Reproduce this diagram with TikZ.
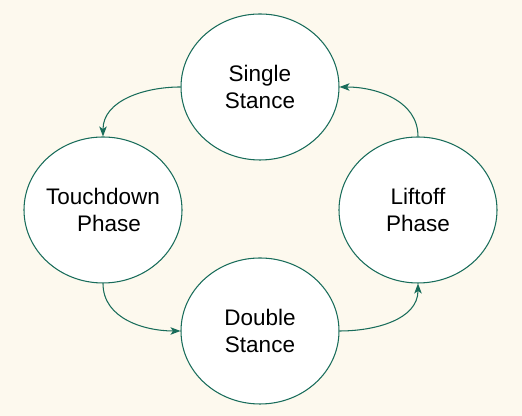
\documentclass[tikz,border=0pt]{standalone}
\usepackage{fontspec}
\setmainfont{Liberation Sans}
\usepackage{tikz}
\usetikzlibrary{shapes.geometric}
\usetikzlibrary{arrows.meta}
\definecolor{cream}{RGB}{253,249,238}
\definecolor{pine}{RGB}{24,108,90}

\begin{document}
\begin{tikzpicture}[
    phase/.style={shape=ellipse, draw=pine, fill=white, line width=0.6pt,
      minimum width=3.16cm, minimum height=2.92cm, inner xsep=-0.2cm, inner ysep=0pt,
      align=center, font=\fontsize{12.8}{14.9}\selectfont},
    trans/.style={draw=pine, line width=0.6pt, -{Stealth[length=0.2cm, width=0.15cm, inset=0.05cm]}}
  ]
      \fill[cream] (0,0) rectangle (10.44,8.32);
      \useasboundingbox (0,0) rectangle (10.44,8.32);

      \node[phase] (single) at (5.20,6.58) {Single\\Stance};
      \node[phase] (touch) at (2.06,4.12) {Touchdown\\\hspace{0.24cm}Phase};
      \node[phase] (double) at (5.20,1.70) {Double\\Stance};
      \node[phase] (lift) at (8.36,4.12) {Liftoff\\Phase};

      \draw[trans] (single.west) to[out=180, in=90] (touch.north);
      \draw[trans] (touch.south) to[out=270, in=180] (double.west);
      \draw[trans] (double.east) to[out=0, in=270] (lift.south);
      \draw[trans] (lift.north) to[out=90, in=0] (single.east);
    \end{tikzpicture}
\end{document}
